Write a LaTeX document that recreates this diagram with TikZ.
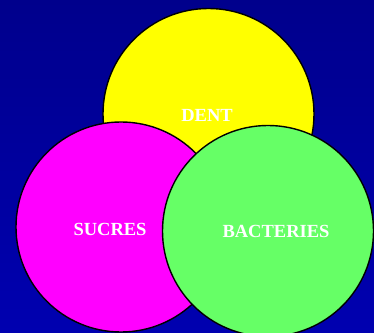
\documentclass[tikz,border=0pt]{standalone}
\usepackage{fontspec}
\setmainfont{Liberation Serif}
\definecolor{bgtop}{RGB}{0, 0, 140}
\definecolor{bgbot}{RGB}{0, 0, 176}
\definecolor{dentyellow}{RGB}{255, 255, 0}
\definecolor{sucremag}{RGB}{255, 0, 255}
\definecolor{bacgreen}{RGB}{102, 255, 102}
\usetikzlibrary{positioning}

\begin{document}
\begin{tikzpicture}[
  x=1pt, y=1pt,
  disc/.style={circle, draw=black, line width=1.4pt, inner sep=0pt, outer sep=0pt, minimum size=211pt},
  lbl/.style={text=white, font=\fontsize{18.5}{20}\selectfont\bfseries, inner sep=0pt}
]
  \shade[top color=bgtop, bottom color=bgbot] (0, 0) rectangle (374, 332);
  \useasboundingbox (0, 0) rectangle (374, 332);
  \node[disc, fill=dentyellow] (dent) at (208.5, 218) {};
  \node[disc, fill=sucremag, minimum size=210pt] (sucres) at (121, 105) {};
  \node[disc, fill=bacgreen] (bacteries) at (268, 101) {};
  \node[lbl] (dentlbl) at (207, 217) {DENT};
  \node[lbl] (sucreslbl) at (110, 103) {SUCRES};
  \node[lbl] (baclbl) at (276, 101) {BACTERIES};
\end{tikzpicture}
\end{document}
